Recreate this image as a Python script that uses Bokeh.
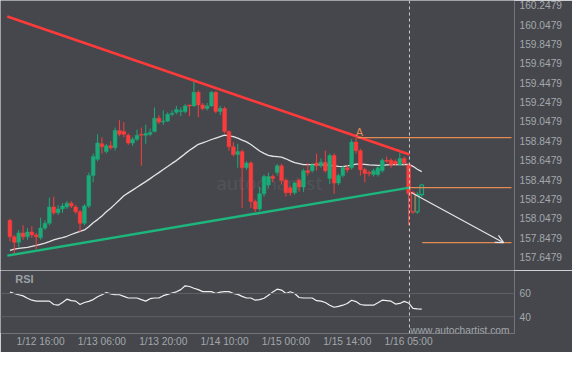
from bokeh.plotting import figure
from bokeh.models import (Range1d, FixedTicker, Span, Label, Arrow, OpenHead,
                          ColumnDataSource, PrintfTickFormatter)
from bokeh.layouts import column
from bokeh.embed import file_html
from bokeh.resources import INLINE

# ---------------- data ----------------
opens = [
    158.027, 157.857, 157.800, 157.897, 157.857, 157.907, 157.877, 157.847, 157.947, 157.997,
    158.165, 158.105, 158.145, 158.165, 158.205, 158.165, 158.115, 157.997, 158.175, 158.490,
    158.657, 158.817, 158.737, 158.797, 158.777, 158.955, 158.945, 158.905, 158.825, 158.865,
    158.915, 158.905, 158.915, 158.945, 159.082, 159.042, 159.052, 159.122, 159.142, 159.152,
    159.152, 159.219, 159.209, 159.349, 159.219, 159.182, 159.209, 159.349, 159.152, 159.182,
    158.945, 158.787, 158.707, 158.737, 158.570, 158.620, 158.222, 158.145, 158.302, 158.392,
    158.480, 158.520, 158.590, 158.440, 158.362, 158.312, 158.440, 158.372, 158.540, 158.540,
    158.620, 158.590, 158.627, 158.460, 158.697, 158.412, 158.490, 158.570, 158.570, 158.835,
    158.747, 158.550, 158.520, 158.500, 158.500, 158.540, 158.647, 158.647, 158.637, 158.600,
    158.667, 158.600, 158.312, 158.115, 158.292]
closes = [
    157.857, 157.800, 157.897, 157.857, 157.907, 157.877, 157.857, 157.947, 157.997, 158.165,
    158.105, 158.145, 158.175, 158.205, 158.175, 158.115, 157.997, 158.175, 158.490, 158.687,
    158.825, 158.787, 158.797, 158.777, 158.955, 158.915, 158.915, 158.825, 158.865, 158.905,
    158.905, 158.925, 158.935, 159.082, 159.042, 159.052, 159.122, 159.132, 159.172, 159.162,
    159.209, 159.209, 159.349, 159.219, 159.182, 159.209, 159.349, 159.152, 159.182, 158.945,
    158.787, 158.707, 158.737, 158.570, 158.620, 158.222, 158.145, 158.302, 158.480, 158.480,
    158.460, 158.590, 158.440, 158.312, 158.312, 158.412, 158.372, 158.540, 158.520, 158.600,
    158.590, 158.627, 158.540, 158.697, 158.412, 158.490, 158.570, 158.550, 158.835, 158.747,
    158.550, 158.510, 158.510, 158.540, 158.570, 158.647, 158.637, 158.600, 158.610, 158.667,
    158.620, 158.302, 158.115, 158.292, 158.392]
highs = [
    158.045, 157.877, 157.927, 157.977, 157.947, 157.967, 157.897, 158.055, 158.027, 158.262,
    158.272, 158.185, 158.205, 158.225, 158.225, 158.185, 158.135, 158.195, 158.520, 158.717,
    158.915, 158.885, 158.817, 158.845, 158.985, 159.062, 159.042, 158.925, 158.885, 158.965,
    158.985, 159.015, 158.975, 159.192, 159.112, 159.162, 159.142, 159.162, 159.209, 159.192,
    159.229, 159.219, 159.459, 159.369, 159.239, 159.239, 159.359, 159.359, 159.209, 159.201,
    158.955, 158.835, 158.817, 158.757, 158.637, 158.637, 158.242, 158.372, 158.500, 158.520,
    158.500, 158.610, 158.610, 158.460, 158.382, 158.430, 158.460, 158.560, 158.620, 158.620,
    158.717, 158.667, 158.747, 158.717, 158.717, 158.510, 158.590, 158.600, 158.865, 158.882,
    158.767, 158.570, 158.540, 158.560, 158.590, 158.667, 158.687, 158.667, 158.657, 158.727,
    158.687, 158.620, 158.332, 158.322, 158.402]
lows = [
    157.810, 157.680, 157.750, 157.827, 157.827, 157.847, 157.730, 157.827, 157.927, 157.977,
    158.085, 158.085, 158.105, 158.145, 158.155, 158.095, 157.907, 157.977, 158.155, 158.420,
    158.637, 158.717, 158.717, 158.757, 158.747, 158.895, 158.885, 158.807, 158.797, 158.845,
    158.590, 158.817, 158.895, 158.935, 159.022, 159.012, 159.042, 159.102, 159.122, 159.102,
    159.132, 159.102, 159.201, 159.092, 159.162, 159.162, 159.201, 159.132, 159.112, 158.925,
    158.747, 158.687, 158.570, 158.155, 158.550, 158.155, 158.115, 158.125, 158.272, 158.362,
    158.420, 158.490, 158.402, 158.272, 158.282, 158.292, 158.322, 158.322, 158.490, 158.520,
    158.540, 158.570, 158.520, 158.402, 158.302, 158.392, 158.470, 158.520, 158.550, 158.717,
    158.490, 158.420, 158.480, 158.480, 158.480, 158.520, 158.620, 158.570, 158.590, 158.590,
    158.600, 157.977, 158.095, 158.095, 158.272]
# moving average (white line)
ma = [
    157.718, 157.730, 157.738, 157.743, 157.748, 157.758, 157.768, 157.780, 157.792, 157.808,
    157.826, 157.839, 157.850, 157.863, 157.881, 157.899, 157.914, 157.928, 157.961, 158.003,
    158.035, 158.073, 158.115, 158.152, 158.195, 158.237, 158.282, 158.311, 158.339, 158.369,
    158.399, 158.427, 158.458, 158.490, 158.520, 158.552, 158.583, 158.615, 158.644, 158.680,
    158.716, 158.751, 158.781, 158.812, 158.828, 158.844, 158.862, 158.877, 158.892, 158.907,
    158.900, 158.891, 158.876, 158.856, 158.837, 158.810, 158.777, 158.743, 158.719, 158.699,
    158.689, 158.686, 158.679, 158.663, 158.642, 158.623, 158.614, 158.603, 158.603, 158.603,
    158.603, 158.603, 158.600, 158.594, 158.589, 158.584, 158.581, 158.590, 158.598, 158.607,
    158.608, 158.605, 158.601, 158.598, 158.595, 158.595, 158.599, 158.603, 158.603, 158.603,
    158.604, 158.605, 158.585, 158.555, 158.530]
rsi = [
    61.2, 60.0, 58.9, 57.9, 55.9, 54.2, 53.4, 53.4, 53.4, 53.4,
    50.5, 49.9, 52.2, 55.1, 53.8, 53.4, 50.5, 52.2, 53.2, 54.7,
    57.1, 58.9, 60.8, 59.6, 58.9, 58.9, 57.5, 56.1, 56.1, 56.1,
    54.7, 53.4, 55.5, 56.1, 56.1, 58.1, 59.2, 60.4, 61.4, 63.3,
    66.6, 66.0, 64.5, 63.3, 61.6, 61.6, 61.6, 60.0, 61.2, 61.6,
    61.6, 60.0, 59.2, 57.5, 56.1, 56.1, 54.2, 54.7, 55.9, 58.4,
    61.2, 63.7, 62.9, 60.0, 61.5, 60.0, 56.5, 56.1, 56.1, 56.1,
    53.8, 53.4, 52.2, 49.9, 48.1, 48.9, 49.9, 51.4, 54.2, 53.0,
    50.5, 49.9, 49.9, 49.9, 52.0, 54.2, 53.8, 53.4, 50.9, 51.4,
    53.2, 51.8, 47.2, 46.8, 46.6]
n_done = 92            # candles from here on are drawn hollow (after pattern end)

tick_idx = [7, 21, 35, 49, 63, 77, 91]
tick_labels = ["1/12 16:00", "1/13 06:00", "1/13 20:00", "1/14 10:00",
               "1/15 00:00", "1/15 14:00", "1/16 05:00"]
price_ticks = [157.6479, 157.8479, 158.0479, 158.2479, 158.4479, 158.6479, 158.8479,
               159.0479, 159.2479, 159.4479, 159.6479, 159.8479, 160.0479, 160.2479]
rsi_ticks = [40, 60]

res_x = [-0.6, 91.2]
res_y = [160.132, 158.707]
sup_x = [-0.6, 91.2]
sup_y = [157.663, 158.365]
level_x0 = [79.3, 91.2, 94.1]
level_x1 = [114.5, 114.5, 114.5]
level_y = [158.882, 158.366, 157.797]
fc_x = [91.6, 112.7]
fc_y = [158.315, 157.797]
end_idx = 91.2

# ---------------- styling ----------------
BG = "#45474c"
GREEN = "#1aab79"
RED = "#fb3c3c"
ORANGE = "#e48a52"
LBL = "#a4a7ac"
FONT = "Liberation Sans"
FS = "10.2px"

idx = list(range(len(closes)))
col = [GREEN if c >= o else RED for o, c in zip(opens, closes)]
btop = [max(o, c) for o, c in zip(opens, closes)]
bbot = [min(o, c) for o, c in zip(opens, closes)]

solid = ColumnDataSource(dict(x=idx[:n_done], h=highs[:n_done], l=lows[:n_done],
                              t=btop[:n_done], b=bbot[:n_done], c=col[:n_done]))
hollow = ColumnDataSource(dict(x=idx[n_done:], h=highs[n_done:], l=lows[n_done:],
                               t=btop[n_done:], b=bbot[n_done:], c=col[n_done:]))

xr = Range1d(-2.156, 115.18)

p = figure(width=572, height=270, x_range=xr, y_range=Range1d(157.5095, 160.297),
           output_backend="svg", toolbar_location=None, x_axis_location=None,
           y_axis_location="right", min_border_left=0, min_border_right=58,
           min_border_top=0, min_border_bottom=0, background_fill_color=BG,
           border_fill_color=BG, outline_line_color=None)
p.grid.grid_line_color = None

p.add_layout(Label(x=47.2, y=158.421, text="autochartist", text_font="Lato",
                   text_font_size="20px", text_color="#515358",
                   text_baseline="alphabetic", level="underlay"))

p.line(idx, ma, line_color="#e4e4e4", line_width=1.3)

for src, hol in ((solid, False), (hollow, True)):
    p.segment(x0="x", x1="x", y0="h", y1="t", line_color="c", line_width=1, source=src)
    p.segment(x0="x", x1="x", y0="b", y1="l", line_color="c", line_width=1, source=src)
    if hol:
        p.vbar(x="x", width=0.8, top="t", bottom="b", fill_alpha=0,
               line_color="c", line_width=1.2, source=src)
    else:
        p.vbar(x="x", width=0.85, top="t", bottom="b", fill_color="c",
               line_color="c", line_width=0.5, source=src)

p.line(res_x, res_y, line_color="#ff3a3a", line_width=2.5)
p.line(sup_x, sup_y, line_color="#1db67c", line_width=2.5)
p.segment(x0=level_x0, x1=level_x1, y0=level_y, y1=level_y,
          line_color=ORANGE, line_width=1.2)
p.add_layout(Arrow(end=OpenHead(size=8, line_color="#e6e6e6", line_width=1.2),
                   x_start=fc_x[0], y_start=fc_y[0], x_end=fc_x[1], y_end=fc_y[1],
                   line_color="#e6e6e6", line_width=1.2))
p.add_layout(Label(x=level_x0[0] + 0.5, y=level_y[0] + 0.06, text="A",
                   text_font=FONT, text_font_size="11px", text_color=ORANGE,
                   text_align="center", text_baseline="middle"))
p.add_layout(Span(location=end_idx, dimension="height", line_color="#cfcfcf",
                  line_dash="3 3", line_width=1))

ya = p.yaxis[0]
ya.ticker = FixedTicker(ticks=price_ticks)
ya.formatter = PrintfTickFormatter(format="%.4f")
ya.axis_line_color = None
ya.major_tick_line_color = None
ya.minor_tick_line_color = None
ya.major_tick_out = 0
ya.major_tick_in = 0
ya.major_label_standoff = 5
ya.major_label_text_color = LBL
ya.major_label_text_font = FONT
ya.major_label_text_font_size = FS

# ---------------- RSI panel ----------------
r = figure(width=572, height=82, x_range=xr, y_range=Range1d(25.54, 79.76),
           output_backend="svg", toolbar_location=None, y_axis_location="right",
           min_border_left=0, min_border_right=58, min_border_top=0,
           min_border_bottom=19, background_fill_color=BG, border_fill_color=BG,
           outline_line_color=None)
r.grid.grid_line_color = None
for lv in rsi_ticks:
    r.add_layout(Span(location=lv, dimension="width", line_color="#5e6166", line_width=1))
r.line(idx, rsi, line_color="#f0f0f0", line_width=1.2)
r.add_layout(Span(location=end_idx, dimension="height", line_color="#cfcfcf",
                  line_dash="3 3", line_width=1))
r.add_layout(Label(x=1.2, y=72.4, text="RSI", text_font=FONT, text_font_size="11px",
                   text_font_style="bold", text_color="#9ca0a6", text_baseline="middle"))
r.add_layout(Label(x=91.4, y=27.9, text="www.autochartist.com", text_font=FONT,
                   text_font_size=FS, text_color=LBL, text_baseline="middle"))

ra = r.yaxis[0]
ra.ticker = FixedTicker(ticks=rsi_ticks)
xa = r.xaxis[0]
xa.ticker = FixedTicker(ticks=tick_idx)
xa.major_label_overrides = {t: s for t, s in zip(tick_idx, tick_labels)}
for ax in (ra, xa):
    ax.axis_line_color = None
    ax.major_tick_line_color = None
    ax.minor_tick_line_color = None
    ax.major_tick_out = 0
    ax.major_tick_in = 0
    ax.major_label_text_color = LBL
    ax.major_label_text_font = FONT
    ax.major_label_text_font_size = FS
ra.major_label_standoff = 5
xa.major_label_standoff = 2

layout = column(p, r, spacing=0)
open("out.html", "w").write(file_html(layout, INLINE))
